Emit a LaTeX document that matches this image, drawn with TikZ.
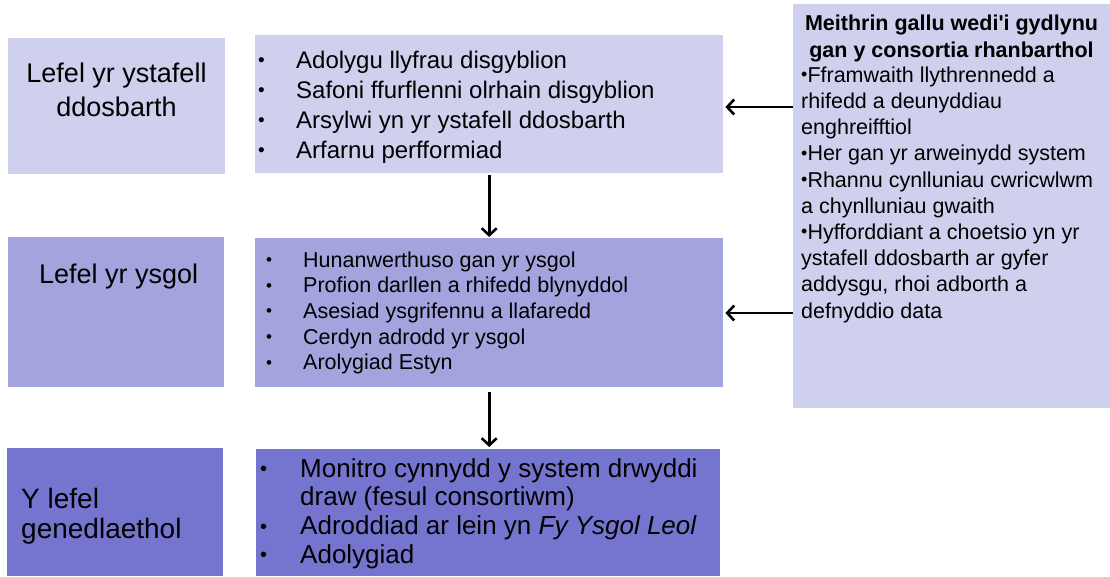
\documentclass[tikz,border=0pt]{standalone}
\usepackage{fontspec}
\setmainfont{Liberation Sans}[Ligatures=TeXOff]
\usetikzlibrary{arrows.meta}
\definecolor{lvlA}{RGB}{207,207,238}
\definecolor{lvlB}{RGB}{163,163,222}
\definecolor{lvlC}{RGB}{117,117,207}
\newcommand\fsz[2]{\fontsize{#1}{#2}\selectfont}
% small bullet: box width, bullet size, item text
\newcommand\dotmark[1]{\raisebox{1.6pt}{\fontsize{#1}{#1}\selectfont•}}
\newcommand\bitem[3]{\makebox[#1][l]{\dotmark{#2}}#3}

\begin{document}
\begin{tikzpicture}[x=1pt,y=-1pt,
  panel/.style={draw=none, fill=#1, inner sep=0, anchor=north west},
  txt/.style={inner sep=0, anchor=north west, align=left, text=black},
  link/.style={-{Straight Barb[length=7pt,width=15pt,line width=2.6pt]}, line width=2.6pt}]
\useasboundingbox[fill=white] (0,0) rectangle (1110,576);

% level boxes, left column
\node[panel=lvlA, minimum width=217pt, minimum height=136pt] (a1) at (8,38) {};
\node[panel=lvlB, minimum width=216pt, minimum height=150pt] (a2) at (8,237) {};
\node[panel=lvlC, minimum width=216pt, minimum height=128pt] (a3) at (7,448) {};

% activity boxes, middle column
\node[panel=lvlA, minimum width=468pt, minimum height=138pt] (b1) at (255,35) {};
\node[panel=lvlB, minimum width=468pt, minimum height=149pt] (b2) at (255,238) {};
\node[panel=lvlC, minimum width=464pt, minimum height=127pt] (b3) at (256,449) {};

% capacity building box, right column
\node[panel=lvlA, minimum width=317pt, minimum height=404pt] (c) at (793,4) {};

% level names
\node[txt, anchor=north, align=center, font=\fsz{27}{34}] (la1) at (116.5,58.2)
  {\strut Lefel yr ystafell\\\strut ddosbarth};
\node[txt, anchor=base west, font=\fsz{27}{34}] (la2) at (39,283) {Lefel yr ysgol};
\node[txt, font=\fsz{28}{30}] (la3) at (21,487)
  {\strut Y lefel\\\strut genedlaethol};

% activity lists
\node[txt, font=\fsz{24}{30}] (lb1) at (258,47)
  {\strut\bitem{38pt}{19}{Adolygu llyfrau disgyblion}\\
   \strut\bitem{38pt}{19}{Safoni ffurflenni olrhain disgyblion}\\
   \strut\bitem{38pt}{19}{Arsylwi yn yr ystafell ddosbarth}\\
   \strut\bitem{38pt}{19}{Arfarnu perfformiad}};
\node[txt, font=\fsz{21.5}{25.7}] (lb2) at (266,249)
  {\strut\bitem{37pt}{17}{Hunanwerthuso gan yr ysgol}\\
   \strut\bitem{37pt}{17}{Profion darllen a rhifedd blynyddol}\\
   \strut\bitem{37pt}{17}{Asesiad ysgrifennu a llafaredd}\\
   \strut\bitem{37pt}{17}{Cerdyn adrodd yr ysgol}\\
   \strut\bitem{37pt}{17}{Arolygiad Estyn}};
\node[txt, font=\fsz{26}{28.7}] (lb3) at (260,457)
  {\strut\bitem{40pt}{20}{Monitro cynnydd y system drwyddi}\\
   \strut\hspace*{40pt}draw (fesul consortiwm)\\
   \strut\bitem{40pt}{20}{Adroddiad ar lein yn \textit{Fy Ysgol Leol}}\\
   \strut\bitem{40pt}{20}{Adolygiad}};

% capacity building text
\node[txt, anchor=north, align=center, font=\fsz{21.5}{27}\bfseries] (lc1) at (951.5,11.1)
  {\strut Meithrin gallu wedi'i gydlynu\\\strut gan y consortia rhanbarthol};
\node[txt, font=\fsz{21.5}{26.2}] (lc2) at (801,63.7)
  {\strut\dotmark{18}Fframwaith llythrennedd a\\
   \strut rhifedd a deunyddiau\\
   \strut enghreifftiol\\
   \strut\dotmark{18}Her gan yr arweinydd system\\
   \strut\dotmark{18}Rhannu cynlluniau cwricwlwm\\
   \strut a chynlluniau gwaith\\
   \strut\dotmark{18}Hyfforddiant a choetsio yn yr\\
   \strut ystafell ddosbarth ar gyfer\\
   \strut addysgu, rhoi adborth a\\
   \strut defnyddio data};

% connectors
\coordinate (k1) at (0,107);
\coordinate (k2) at (0,313);
\draw[link] (k1 -| c.west) -- ([xshift=2pt]k1 -| b1.east);
\draw[link] (k2 -| c.west) -- ([xshift=2pt]k2 -| b2.east);
\draw[link] ([yshift=-2pt]b1.south) -- ([yshift=1pt]b1.south |- b2.north);
\draw[link] ([yshift=-5pt]b2.south) -- ([yshift=2pt]b2.south |- b3.north);
\end{tikzpicture}
\end{document}
